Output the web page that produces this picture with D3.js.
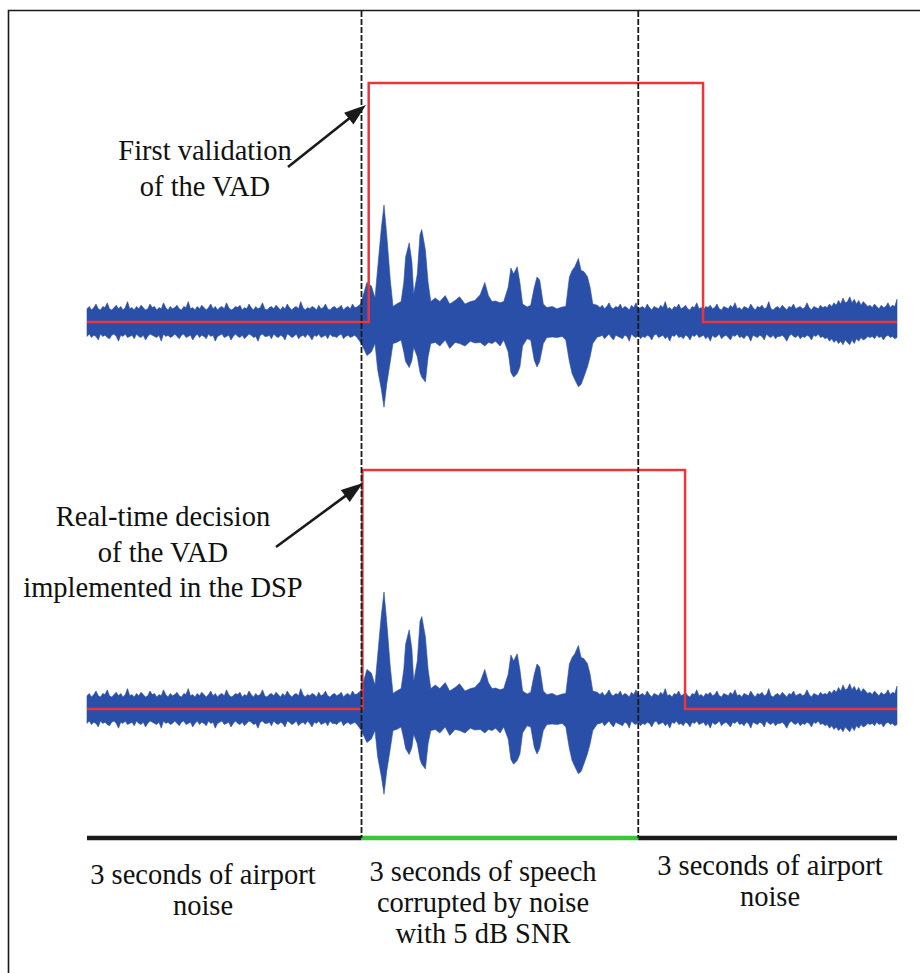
<!DOCTYPE html>
<html>
<head>
<meta charset="utf-8">
<script src="https://cdn.jsdelivr.net/npm/d3@7"></script>
<style>
  html, body { margin: 0; padding: 0; background: #fff; }
  svg { display: block; }
  .cap { font-family: "Liberation Serif", "Times New Roman", Times, "DejaVu Serif", serif; font-size: 28.5px; fill: #111; }
</style>
</head>
<body>
<svg id="chart" width="920" height="973"></svg>
<script>
// ---- Recorded signal: envelope of the waveform (normalised amplitude), time in seconds ----
const sampleStep = 0.025;   // envelope resolution of the noise-only stretches (s)

// Airport noise before the utterance (starts at 0 s)
const noiseBeforeStart = 0;
const noiseBeforeUp = [
  .11,.13,.10,.12,.15,.11,.10,.13,.12,.16, .11,.10,.12,.14,.11,.13,.10,.12,.17,.11,
  .12,.10,.13,.11,.14,.12,.10,.11,.15,.12, .13,.10,.12,.11,.16,.12,.10,.13,.11,.12,
  .14,.11,.10,.13,.12,.17,.11,.12,.10,.13, .11,.14,.12,.10,.12,.15,.11,.13,.10,.12,
  .13,.11,.16,.12,.10,.11,.13,.12,.14,.10, .12,.11,.15,.12,.10,.13,.11,.12,.16,.11,
  .10,.12,.13,.11,.14,.12,.10,.13,.11,.15, .12,.10,.12,.13,.11,.17,.12,.10,.12,.11,
  .13,.12,.10,.14,.11,.12,.15,.11,.10,.12, .13,.11,.12,.14,.10,.12,.13,.11,.15,.12];
const noiseBeforeLo = [
  .12,.10,.13,.11,.12,.15,.10,.12,.11,.13, .14,.11,.10,.12,.16,.11,.12,.10,.13,.12,
  .11,.14,.10,.12,.13,.11,.15,.12,.10,.11, .12,.13,.11,.16,.10,.12,.11,.13,.12,.10,
  .12,.14,.11,.10,.13,.12,.11,.15,.12,.10, .13,.11,.12,.14,.10,.12,.11,.16,.12,.11,
  .10,.13,.12,.11,.15,.12,.10,.12,.13,.11, .14,.12,.10,.11,.13,.12,.16,.11,.10,.12,
  .12,.11,.14,.10,.12,.13,.11,.12,.15,.10, .11,.13,.12,.10,.14,.12,.11,.13,.10,.12,
  .15,.11,.12,.10,.13,.12,.11,.14,.10,.12, .12,.13,.11,.10,.14,.12,.11,.13,.12,.11];

// Speech corrupted by noise (irregularly spaced envelope points)
const speechT = [3.00,3.04,3.08,3.11,3.16,3.20,3.23,3.27,3.30,3.33,3.37,3.40,3.44,3.49,3.52,
  3.54,3.58,3.61,3.63,3.67,3.70,3.72,3.76,3.79,3.82,3.87,3.92,3.98,4.03,4.09,4.14,4.20,4.26,
  4.31,4.37,4.42,4.46,4.50,4.54,4.59,4.63,4.68,4.71,4.74,4.78,4.81,4.84,4.89,4.93,4.97,5.00,
  5.03,5.07,5.11,5.17,5.22,5.28,5.32,5.36,5.39,5.42,5.46,5.49,5.52,5.56,5.59,5.62,5.67];
const speechUp = [.125,.15,.25,.33,.30, .20,.45,.78,.975,.73, .35,.13,.15,.17,.33,
  .54,.66,.50,.23,.40, .73,.77,.60,.33,.17, .20,.17,.22,.15,.18, .21,.15,.17,.18,.23,
  .33,.22,.17,.175,.16, .17,.29,.45,.40,.46, .33,.15,.125,.14,.29, .375,.35,.15,.12,.13,
  .11,.125,.13,.375,.43, .46,.53,.43,.42,.38, .29,.15,.14];
const speechLo = [.13,.17,.23,.28,.25, .18,.40,.56,.71,.52, .33,.18,.17,.15,.25,
  .33,.38,.32,.21,.29, .42,.46,.50,.29,.18, .17,.20,.15,.22,.17, .18,.20,.16,.175,.17,
  .20,.17,.18,.16,.20, .15,.25,.42,.46,.43, .375,.20,.14,.15,.32, .375,.33,.18,.13,.125,
  .13,.12,.15,.33,.43, .48,.54,.52,.46,.375, .29,.18,.125];

// Airport noise after the utterance (starts at 5.7 s)
const noiseAfterStart = 5.7;
const noiseAfterUp = [
  .12,.14,.11,.13,.16,.12,.11,.13,.12,.15, .11,.13,.12,.10,.14,.12,.16,.11,.12,.13,
  .11,.15,.12,.10,.13,.12,.11,.14,.12,.17, .11,.12,.10,.13,.12,.15,.11,.12,.14,.11,
  .10,.13,.12,.16,.11,.12,.10,.13,.12,.14, .11,.12,.15,.11,.10,.13,.12,.11,.14,.12,
  .16,.11,.12,.10,.13,.12,.11,.15,.12,.10, .13,.12,.14,.11,.12,.17,.11,.10,.12,.13,
  .11,.14,.12,.10,.13,.12,.15,.11,.12,.13, .11,.12,.16,.12,.10,.13,.12,.11,.14,.12,
  .13,.12,.15,.13,.16,.14,.18,.15,.20,.16, .17,.21,.16,.19,.15,.18,.14,.17,.15,.13,
  .14,.12,.15,.13,.11,.14,.12,.13,.16,.12, .14,.13,.19];
const noiseAfterLo = [
  .12,.11,.14,.12,.10,.13,.15,.11,.12,.13, .14,.11,.12,.16,.10,.12,.13,.11,.14,.12,
  .13,.11,.12,.15,.11,.10,.13,.12,.11,.14, .12,.16,.11,.12,.10,.13,.12,.14,.11,.12,
  .15,.11,.12,.10,.13,.12,.11,.14,.12,.16, .11,.13,.12,.10,.14,.12,.11,.13,.15,.11,
  .12,.10,.13,.12,.14,.11,.12,.16,.11,.12, .13,.11,.12,.15,.10,.12,.13,.11,.14,.12,
  .12,.11,.13,.16,.12,.10,.12,.13,.11,.14, .12,.13,.11,.12,.15,.11,.12,.10,.13,.12,
  .14,.13,.16,.14,.17,.15,.18,.16,.19,.15, .17,.19,.15,.18,.14,.16,.13,.15,.14,.12,
  .13,.12,.14,.11,.13,.12,.15,.12,.11,.13, .12,.14,.13];

// ---- VAD decisions (0 = noise, 1 = speech) ----
const vadFirstT = [0, 3.13, 6.845, 9];
const vadFirstV = [0, 1, 0, 0];
const vadRealtimeT = [0, 3.06, 6.645, 9];
const vadRealtimeV = [0, 1, 0, 0];

// ---- Segments of the test sequence ----
const segmentStart = [0, 3.05, 6.125];
const segmentEnd = [3.05, 6.125, 9];
const segmentKind = ["noise", "speech", "noise"];
const segmentLabels = [
  ["3 seconds of airport", "noise"],
  ["3 seconds of speech", "corrupted by noise", "with 5 dB SNR"],
  ["3 seconds of airport", "noise"]
];

// ---- Styling ----
const W = 920, H = 973;
const colWave = "#2b4fa8", colVad = "#e8363d", colSpeech = "#3cc43c", colInk = "#1a1a1a";

const svg = d3.select("#chart");
const defs = svg.append("defs");
defs.append("filter").attr("id", "soft")
  .attr("x", "-2%").attr("y", "-10%").attr("width", "104%").attr("height", "120%")
  .append("feGaussianBlur").attr("stdDeviation", 0.6);

const x = d3.scaleLinear().domain([0, 9]).range([87, 897]);

const wave = [];
noiseBeforeUp.forEach((u, i) => wave.push({ t: noiseBeforeStart + i * sampleStep, up: u, lo: noiseBeforeLo[i] }));
speechT.forEach((t, i) => wave.push({ t, up: speechUp[i], lo: speechLo[i] }));
noiseAfterUp.forEach((u, i) => wave.push({ t: noiseAfterStart + i * sampleStep, up: u, lo: noiseAfterLo[i] }));

// Frame (top and left edges)
svg.append("path")
  .attr("d", `M8.5,${H} L8.5,10.5 L${W},10.5`)
  .attr("fill", "none").attr("stroke", colInk).attr("stroke-width", 1.6);

const panels = [
  { base: 322, vadT: vadFirstT, vadV: vadFirstV },
  { base: 709, vadT: vadRealtimeT, vadV: vadRealtimeV }
];

panels.forEach(p => {
  const yWave = d3.scaleLinear().domain([-1, 1]).range([p.base + 120, p.base - 120]);
  const yVad = d3.scaleLinear().domain([0, 1]).range([p.base, p.base - 239]);

  const g = svg.append("g");
  g.append("path")
    .datum(wave)
    .attr("d", d3.area()
      .x(d => x(d.t))
      .y0(d => yWave(-d.lo))
      .y1(d => yWave(d.up)))
    .attr("fill", colWave)
    .attr("stroke", colWave)
    .attr("stroke-width", 0.6)
    .attr("filter", "url(#soft)");

  const vad = p.vadT.map((t, i) => [t, p.vadV[i]]);
  g.append("path")
    .datum(vad)
    .attr("d", d3.line().x(d => x(d[0])).y(d => yVad(d[1])).curve(d3.curveStepAfter))
    .attr("fill", "none")
    .attr("stroke", colVad)
    .attr("stroke-width", 2.5);
});

// Segment bar along the bottom
const barY = 838;
segmentStart.forEach((s, i) => {
  svg.append("line")
    .attr("x1", x(s)).attr("x2", x(segmentEnd[i]))
    .attr("y1", barY).attr("y2", barY)
    .attr("stroke", segmentKind[i] === "speech" ? colSpeech : colInk)
    .attr("stroke-width", 4.5);
});

// Dashed boundaries of the speech segment
[segmentEnd[0], segmentEnd[1]].forEach(t => {
  svg.append("line")
    .attr("x1", x(t)).attr("x2", x(t))
    .attr("y1", 11).attr("y2", barY)
    .attr("stroke", colInk)
    .attr("stroke-width", 1.8)
    .attr("stroke-dasharray", "6,2");
});

// Segment captions
const captionX = [203, 483, 770];
const captionY = [884, 881, 875];
segmentLabels.forEach((lines, i) => {
  const t = svg.append("text").attr("class", "cap").attr("text-anchor", "middle");
  lines.forEach((s, j) => {
    t.append("tspan").attr("x", captionX[i]).attr("y", captionY[i] + j * 31).text(s);
  });
});

// Annotations with arrows
function arrow(x1, y1, x2, y2) {
  const a = Math.atan2(y2 - y1, x2 - x1), L = 22, hw = 7.5;
  const bx = x2 - L * Math.cos(a), by = y2 - L * Math.sin(a);
  svg.append("line")
    .attr("x1", x1).attr("y1", y1).attr("x2", bx + 2 * Math.cos(a)).attr("y2", by + 2 * Math.sin(a))
    .attr("stroke", colInk).attr("stroke-width", 2.6);
  svg.append("path")
    .attr("d", `M${x2},${y2} L${bx - hw * Math.sin(a)},${by + hw * Math.cos(a)} L${bx + hw * Math.sin(a)},${by - hw * Math.cos(a)} Z`)
    .attr("fill", colInk);
}

const notes = [
  { lines: ["First validation", "of the VAD"], cx: 205, y: 160, arrow: [288, 167, 366, 105] },
  { lines: ["Real-time decision", "of the VAD", "implemented in the DSP"], cx: 163, y: 526, arrow: [276, 547, 363, 483] }
];
notes.forEach(n => {
  const t = svg.append("text").attr("class", "cap").attr("text-anchor", "middle");
  n.lines.forEach((s, j) => {
    t.append("tspan").attr("x", n.cx).attr("y", n.y + j * 35.5).text(s);
  });
  arrow(...n.arrow);
});
</script>
</body>
</html>
